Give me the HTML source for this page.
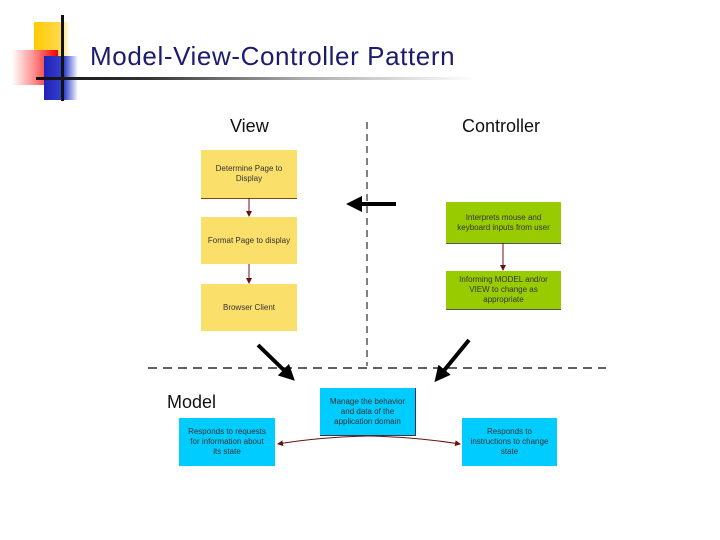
<!DOCTYPE html>
<html><head><style>
body{margin:0;width:720px;height:540px;background:#fff;position:relative;overflow:hidden;font-family:"Liberation Sans",sans-serif}
.a{position:absolute}
.b{position:absolute;display:flex;align-items:center;justify-content:center;text-align:center;font-size:8px;color:#333;line-height:10px}
.y{background:#fbdf6b;border-bottom:1px solid #7a4a1a}
.g{background:#99cc00;border-bottom:1px solid #555}
.c{background:#00ccff}
</style></head><body>
<div class="a" style="left:34px;top:22px;width:36px;height:38px;background:linear-gradient(90deg,#ffcc00,#ffd84a 70%,#fff)"></div>
<div class="a" style="left:12px;top:50px;width:46px;height:35px;background:linear-gradient(90deg,#fff,#f88 50%,#e00)"></div>
<div class="a" style="left:44px;top:56px;width:34px;height:44px;background:linear-gradient(90deg,#2222bb,#3344cc 60%,#fff)"></div>
<div class="a" style="left:61px;top:15px;width:3px;height:86px;background:#111"></div>
<div class="a" style="left:36px;top:77px;width:440px;height:3px;background:linear-gradient(90deg,#111,#333 25%,#aaa 60%,#fff)"></div>
<div class="a" style="left:90px;top:41px;font-size:26px;letter-spacing:0.6px;color:#1c1c6c">Model-View-Controller Pattern</div>

<div class="a" style="left:230px;top:116px;font-size:18px;color:#111">View</div>
<div class="a" style="left:462px;top:116px;font-size:18px;color:#111">Controller</div>
<div class="a" style="left:167px;top:392px;font-size:18px;color:#111">Model</div>

<div class="b y" style="left:201px;top:150px;width:96px;height:48px">Determine Page to<br>Display</div>
<div class="b y" style="left:201px;top:217px;width:96px;height:47px;border:none">Format Page to display</div>
<div class="b y" style="left:201px;top:284px;width:96px;height:47px;border:none">Browser Client</div>
<div class="b g" style="left:446px;top:202px;width:115px;height:41px">Interprets mouse and<br>keyboard inputs from user</div>
<div class="b g" style="left:446px;top:271px;width:115px;height:38px">Informing MODEL and/or<br>VIEW to change as<br>appropriate</div>
<div class="b c" style="left:320px;top:388px;width:95px;height:47px;border-right:1px solid #335;border-bottom:1px solid #335">Manage the behavior<br>and data of the<br>application domain</div>
<div class="b c" style="left:179px;top:418px;width:96px;height:48px">Responds to requests<br>for information about<br>its state</div>
<div class="b c" style="left:462px;top:418px;width:95px;height:48px">Responds to<br>instructions to change<br>state</div>

<svg class="a" style="left:0;top:0" width="720" height="540">
<defs>
<marker id="r" markerWidth="6" markerHeight="6" refX="5" refY="3" orient="auto"><path d="M0,0L6,3L0,6z" fill="#6b1010"/></marker>
<marker id="k" markerWidth="4" markerHeight="4" refX="3" refY="2" orient="auto"><path d="M0,0L4,2L0,4z" fill="#000"/></marker>
</defs>
<line x1="367" y1="122" x2="367" y2="366" stroke="#000" stroke-dasharray="7,5"/>
<line x1="148" y1="368" x2="606" y2="368" stroke="#000" stroke-width="1.2" stroke-dasharray="9,6"/>
<line x1="249" y1="198" x2="249" y2="216" stroke="#6b1010" marker-end="url(#r)"/>
<line x1="249" y1="264" x2="249" y2="283" stroke="#6b1010" marker-end="url(#r)"/>
<line x1="503" y1="243" x2="503" y2="270" stroke="#6b1010" marker-end="url(#r)"/>
<line x1="396" y1="204" x2="350" y2="204" stroke="#000" stroke-width="4" marker-end="url(#k)"/>
<line x1="258" y1="345" x2="292" y2="378" stroke="#000" stroke-width="4" marker-end="url(#k)"/>
<line x1="469" y1="340" x2="437" y2="379" stroke="#000" stroke-width="4" marker-end="url(#k)"/>
<path d="M368,436 Q320,437 278,444" fill="none" stroke="#6b1010" marker-end="url(#r)"/>
<path d="M368,436 Q416,437 460,444" fill="none" stroke="#6b1010" marker-end="url(#r)"/>
</svg>
</body></html>
